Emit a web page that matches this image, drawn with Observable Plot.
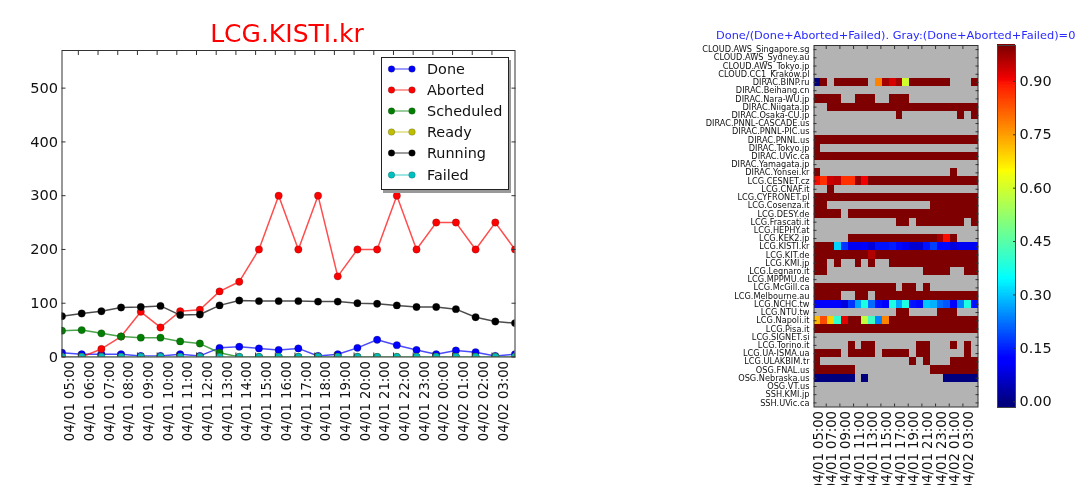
<!DOCTYPE html>
<html><head><meta charset="utf-8">
<script src="https://cdn.jsdelivr.net/npm/d3@7"></script>
<script src="https://cdn.jsdelivr.net/npm/@observablehq/plot@0.6"></script>
<style>
html,body{margin:0;padding:0;background:#fff;overflow:hidden}
#page{position:relative;width:1082px;height:485px;overflow:hidden;font-family:"DejaVu Sans",sans-serif;color:#111;filter:blur(.45px)}
#page > svg{position:absolute;top:0;background:transparent;max-width:none}
.title1{position:absolute;left:0;width:574px;top:18px;text-align:center;color:#ff0000;font-size:25px;line-height:32px}
.title2{position:absolute;left:716px;top:29px;color:#2a2aff;font-size:11.35px;line-height:13px;white-space:nowrap}
.legend{position:absolute;left:381px;top:57px;width:126px;height:131px;border:1px solid #222;background:#fff;box-shadow:2px 3px 0 #999;box-sizing:content-box}
.legend div{position:absolute;left:45px;font-size:14.4px;line-height:20px;white-space:nowrap}
.legend svg{position:absolute;left:5px}
</style></head><body>
<div id="page"></div>
<script>
const hours = ["04/01 05:00","04/01 06:00","04/01 07:00","04/01 08:00","04/01 09:00","04/01 10:00","04/01 11:00","04/01 12:00","04/01 13:00","04/01 14:00","04/01 15:00","04/01 16:00","04/01 17:00","04/01 18:00","04/01 19:00","04/01 20:00","04/01 21:00","04/01 22:00","04/01 23:00","04/02 00:00","04/02 01:00","04/02 02:00","04/02 03:00"];
const done      = [8,5,5,5,2,2,5,2,17,19,16,13,16,2,5,17,32,22,13,5,12,9,2,5];
const aborted   = [0,0,15,38,84,55,85,88,122,140,200,300,200,300,150,200,200,300,200,250,250,200,250,200];
const scheduled = [49,50,44,38,36,36,29,25,8,0,0,0,0,0,0,0,0,0,0,0,0,0,0,0];
const ready     = [0,0,0,0,0,0,0,0,0,0,0,0,0,0,0,0,0,0,0,0,0,0,0,0];
const running   = [76,81,85,92,93,95,78,79,96,105,104,104,104,103,103,100,99,96,93,93,89,74,66,63];
const failed    = [0,0,0,0,0,0,0,0,0,0,0,0,0,0,0,0,0,0,0,0,0,0,0,0];
const seriesNames  = ["Done","Aborted","Scheduled","Ready","Running","Failed"];
const seriesValues = [done,aborted,scheduled,ready,running,failed];
const seriesColors = ["#0000ff","#ff0000","#007f00","#bfbf00","#000000","#00bfbf"];
const yTicks = [0,100,200,300,400,500];

const sites = ["CLOUD.AWS_Singapore.sg","CLOUD.AWS_Sydney.au","CLOUD.AWS_Tokyo.jp","CLOUD.CC1_Krakow.pl","DIRAC.BINP.ru","DIRAC.Beihang.cn","DIRAC.Nara-WU.jp","DIRAC.Niigata.jp","DIRAC.Osaka-CU.jp","DIRAC.PNNL-CASCADE.us","DIRAC.PNNL-PIC.us","DIRAC.PNNL.us","DIRAC.Tokyo.jp","DIRAC.UVic.ca","DIRAC.Yamagata.jp","DIRAC.Yonsei.kr","LCG.CESNET.cz","LCG.CNAF.it","LCG.CYFRONET.pl","LCG.Cosenza.it","LCG.DESY.de","LCG.Frascati.it","LCG.HEPHY.at","LCG.KEK2.jp","LCG.KISTI.kr","LCG.KIT.de","LCG.KMI.jp","LCG.Legnaro.it","LCG.MPPMU.de","LCG.McGill.ca","LCG.Melbourne.au","LCG.NCHC.tw","LCG.NTU.tw","LCG.Napoli.it","LCG.Pisa.it","LCG.SIGNET.si","LCG.Torino.it","LCG.UA-ISMA.ua","LCG.ULAKBIM.tr","OSG.FNAL.us","OSG.Nebraska.us","OSG.VT.us","SSH.KMI.jp","SSH.UVic.ca"];
const _ = null;
const ratios = [
[_,_,_,_,_,_,_,_,_,_,_,_,_,_,_,_,_,_,_,_,_,_,_,_],
[_,_,_,_,_,_,_,_,_,_,_,_,_,_,_,_,_,_,_,_,_,_,_,_],
[_,_,_,_,_,_,_,_,_,_,_,_,_,_,_,_,_,_,_,_,_,_,_,_],
[_,_,_,_,_,_,_,_,_,_,_,_,_,_,_,_,_,_,_,_,_,_,_,_],
[0,1,_,1,1,1,1,1,_,.78,.97,.93,.97,.6,1,1,1,1,1,1,_,_,_,1],
[_,_,_,_,_,_,_,_,_,_,_,_,_,_,_,_,_,_,_,_,_,_,_,_],
[1,1,1,1,_,_,1,1,1,_,_,1,1,1,_,_,_,_,_,_,_,_,_,_],
[_,_,1,1,1,1,1,1,1,1,1,1,1,1,1,1,1,1,1,1,1,1,1,1],
[_,_,_,_,_,_,_,_,_,_,_,_,1,_,_,_,_,_,_,_,_,1,_,1],
[_,_,_,_,_,_,_,_,_,_,_,_,_,_,_,_,_,_,_,_,_,_,_,_],
[_,_,_,_,_,_,_,_,_,_,_,_,_,_,_,_,_,_,_,_,_,_,_,_],
[1,1,1,1,1,1,1,1,1,1,1,1,1,1,1,1,1,1,1,1,1,1,1,1],
[1,_,_,_,_,_,_,_,_,_,_,_,_,_,_,_,_,_,_,_,_,_,_,_],
[1,1,1,1,1,1,1,1,1,1,1,1,1,1,1,1,1,1,1,1,1,1,1,1],
[_,_,_,_,_,_,_,_,_,_,_,_,_,_,_,_,_,_,_,_,_,_,_,_],
[1,_,_,_,_,_,_,_,_,_,_,_,_,_,_,_,_,_,_,_,1,_,_,_],
[.9,.87,.94,.95,.87,.87,.98,.91,1,1,1,1,1,1,1,1,1,1,1,1,1,1,1,1],
[_,_,1,_,_,_,_,_,_,_,_,_,_,_,_,_,_,_,_,_,_,_,_,_],
[1,1,1,1,1,1,1,1,1,1,1,1,1,1,1,1,1,1,1,1,1,1,1,1],
[1,1,_,_,_,_,_,_,_,_,_,_,_,_,_,_,_,1,1,1,1,1,1,1],
[1,1,1,1,_,1,1,1,1,1,1,1,1,1,1,1,1,1,1,1,1,1,1,1],
[_,_,_,_,_,_,_,_,_,_,_,_,1,1,_,1,1,1,1,1,1,1,_,1],
[_,_,_,_,_,_,_,_,_,_,_,_,_,_,_,_,_,_,_,_,_,_,_,_],
[_,_,_,_,_,1,1,1,1,1,1,1,1,1,1,1,1,1,.97,.9,1,_,_,_],
[1,1,1,.31,.17,.1,.1,.12,.08,.14,.14,.15,.13,.1,.07,.07,.14,.18,.13,.13,.08,.1,.1,.1],
[1,1,1,1,1,1,1,1,.96,1,1,1,1,1,1,1,1,1,1,1,1,1,1,1],
[1,1,_,1,_,_,1,_,1,_,_,1,1,1,1,1,1,1,1,1,1,1,1,1],
[1,1,_,_,_,_,_,_,_,_,_,_,_,_,_,_,1,1,1,1,_,_,1,1],
[_,_,_,_,_,_,_,_,_,_,_,_,_,_,_,_,_,_,_,_,_,_,_,_],
[1,1,1,1,1,1,1,1,1,1,1,1,_,1,1,_,1,_,_,_,_,_,_,_],
[1,1,1,1,_,_,1,1,_,1,1,1,1,1,1,1,1,1,1,1,1,1,1,1],
[.12,.12,.12,.12,.08,.17,.27,.38,.22,.14,.12,.38,.27,.38,.14,.13,.3,.28,.22,.2,.12,.24,.38,.14],
[_,_,_,_,_,_,_,_,_,_,_,_,1,1,_,_,_,_,1,1,1,_,_,_],
[.72,.84,.7,.4,.92,1,1,.58,.42,.24,.78,1,1,1,1,1,1,1,1,1,1,1,1,1],
[1,1,1,1,1,1,1,1,1,1,1,1,1,1,1,1,1,1,1,1,1,1,1,1],
[_,_,_,_,_,_,_,_,_,_,_,_,_,_,_,_,_,_,_,_,_,_,_,_],
[_,_,_,_,_,1,_,1,1,_,_,_,_,_,_,1,1,_,_,_,1,_,1,_],
[1,1,1,1,_,1,1,1,1,_,1,1,1,1,_,1,1,_,_,_,_,_,1,_],
[1,_,_,_,_,_,_,_,_,_,_,_,_,_,1,_,1,_,_,_,1,1,1,1],
[1,1,1,1,1,1,_,_,_,_,_,_,_,_,_,_,_,1,1,1,1,1,1,1],
[0,0,0,0,0,0,_,0,_,_,_,_,_,_,_,_,_,_,_,0,0,0,0,0],
[_,_,_,_,_,_,_,_,_,_,_,_,_,_,_,_,_,_,_,_,_,_,_,_],
[_,_,_,_,_,_,_,_,_,_,_,_,_,_,_,_,_,_,_,_,_,_,_,_],
[_,_,_,_,_,_,_,_,_,_,_,_,_,_,_,_,_,_,_,_,_,_,_,_]
];
const heatLabels = hours.filter((d,i)=>i%2===0);
const barTicks = [0,.15,.3,.45,.6,.75,.9];
const jetStops  = [0,.11,.125,.34,.35,.375,.64,.65,.66,.89,.91,1];
const jetColors = ["#00007f","#0000ff","#0000ff","#00f5ff","#00ffff","#19ffe6","#f2ff0d","#ffff00","#fff200","#ff1c00","#f00000","#7f0000"];
const barLevels = d3.range(-.012,1.005,.004);

const page = document.getElementById("page");
const font = {fontFamily:'"DejaVu Sans",sans-serif',color:"#111",background:"transparent"};
const colorScale = {type:"linear",domain:jetStops,range:jetColors,clamp:true};

/* left panel */
const lineData = seriesNames.flatMap((name,s)=>seriesValues[s].map((v,i)=>({name,i,v})));
const line = Plot.plot({
  width:540,height:485,marginLeft:61.5,marginRight:25.5,marginTop:50,marginBottom:128.5,
  style:{...font,fontSize:"14.6px"},
  x:{type:"linear",domain:[0,23],axis:null},
  y:{domain:[0,570],axis:null},
  color:{domain:seriesNames,range:seriesColors},
  marks:[
    Plot.line(lineData,{x:"i",y:"v",z:"name",stroke:"name",strokeWidth:1.5,strokeOpacity:.7,clip:"frame"}),
    Plot.dot(lineData,{x:"i",y:"v",fill:"name",r:3.7,stroke:"#222",strokeWidth:.4,strokeOpacity:.6,clip:"frame"}),
    Plot.axisY({ticks:yTicks,anchor:"left",tickSize:-4,tickPadding:8,label:null,stroke:"#333",fontSize:14.6}),
    Plot.axisY({ticks:yTicks,anchor:"right",tickSize:-4,tickFormat:()=>"",label:null,stroke:"#333"}),
    Plot.axisX({ticks:d3.range(0,22).map(i=>i+.83),anchor:"top",tickSize:-4,tickFormat:()=>"",label:null,stroke:"#333"}),
    Plot.axisX({ticks:d3.range(0,22).map(i=>i+.83),anchor:"bottom",tickSize:-4,tickFormat:()=>"",label:null,stroke:"#333"}),
    Plot.axisX({ticks:d3.range(0,hours.length),anchor:"bottom",tickSize:0,tickPadding:4,tickRotate:-90,dx:8,tickFormat:i=>hours[i],label:null,fontSize:13.2}),
    Plot.frame({stroke:"#333",strokeWidth:1})
  ]
});
line.style.left="0px";
page.appendChild(line);

/* heatmap */
const cells = sites.flatMap((site,r)=>ratios[r].map((value,c)=>({site,c,value}))).filter(d=>d.value!==null);
const heat = Plot.plot({
  width:300,height:485,marginLeft:123.5,marginRight:12.5,marginTop:45,marginBottom:78.5,
  style:{...font,fontSize:"8.2px"},
  x:{type:"linear",domain:[0,24],axis:null},
  y:{type:"band",domain:sites,padding:0,round:false,axis:null},
  color:colorScale,
  marks:[
    Plot.frame({fill:"#b3b3b3",stroke:"none"}),
    Plot.barX(cells,{x1:"c",x2:d=>d.c+1,y:"site",fill:"value",inset:0,shapeRendering:"crispEdges"}),
    Plot.axisY(sites,{anchor:"left",tickSize:-3,tickPadding:7.5,label:null,stroke:"#333",fontSize:8.2}),
    Plot.axisY(sites,{anchor:"right",tickSize:-3,tickFormat:()=>"",label:null,stroke:"#333"}),
    Plot.axisX({ticks:d3.range(0,22,2).map(i=>i+1.79),anchor:"top",tickSize:-3,tickFormat:()=>"",label:null,stroke:"#333"}),
    Plot.axisX({ticks:d3.range(0,22,2).map(i=>i+1.79),anchor:"bottom",tickSize:-3,tickFormat:()=>"",label:null,stroke:"#333"}),
    Plot.axisX({ticks:d3.range(0,24,2),anchor:"bottom",tickSize:0,tickPadding:4,tickRotate:-90,dx:4.5,tickFormat:i=>heatLabels[i/2],label:null,fontSize:13.2}),
    Plot.frame({stroke:"#333",strokeWidth:1})
  ]
});
heat.style.left="690px";
page.appendChild(heat);

/* colour bar */
const bar = Plot.plot({
  width:92,height:485,marginLeft:7,marginRight:67,marginTop:45,marginBottom:78,
  style:{...font,fontSize:"14.4px"},
  x:{type:"linear",domain:[0,1],axis:null},
  y:{type:"linear",domain:[-.012,1.005],axis:null},
  color:colorScale,
  marks:[
    Plot.rect(barLevels,{x1:0,x2:1,y1:d=>d,y2:d=>d+.0045,fill:d=>d,shapeRendering:"crispEdges"}),
    Plot.axisY({ticks:barTicks,anchor:"right",tickSize:-3,tickPadding:7,dy:-1.5,tickFormat:d3.format(".2f"),label:null,stroke:"#333",fontSize:14.4}),
    Plot.frame({stroke:"#444",strokeWidth:1})
  ]
});
bar.style.left="990px";
page.appendChild(bar);

/* titles */
const t1=document.createElement("div");t1.className="title1";t1.textContent="LCG.KISTI.kr";page.appendChild(t1);
const t2=document.createElement("div");t2.className="title2";t2.textContent="Done/(Done+Aborted+Failed). Gray:(Done+Aborted+Failed)=0";page.appendChild(t2);

/* legend */
const lg=document.createElement("div");lg.className="legend";
seriesNames.forEach((name,i)=>{
  const top=i*21.1;
  lg.insertAdjacentHTML("beforeend",
   `<svg width="34" height="16" style="top:${top+3}px"><line x1="4.5" x2="25" y1="8" y2="8" stroke="${seriesColors[i]}" stroke-width="1.3" stroke-opacity=".6"/><circle cx="4.5" cy="8" r="3.3" fill="${seriesColors[i]}" stroke="#222" stroke-width=".4" stroke-opacity=".6"/><circle cx="25" cy="8" r="3.3" fill="${seriesColors[i]}" stroke="#222" stroke-width=".4" stroke-opacity=".6"/></svg><div style="top:${top+1}px">${name}</div>`);
});
page.appendChild(lg);
</script>
</body></html>
